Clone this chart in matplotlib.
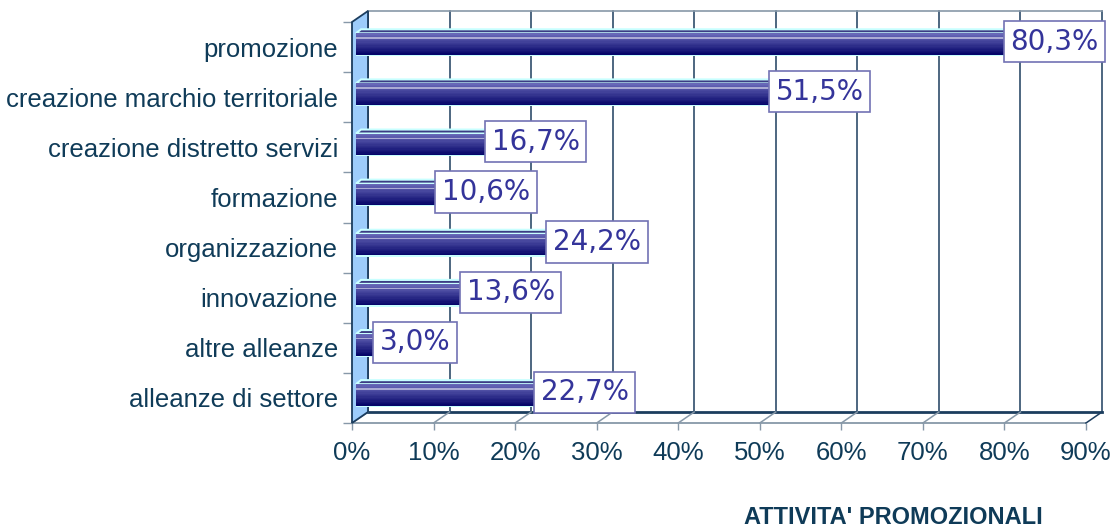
import numpy as np
import matplotlib.pyplot as plt
from matplotlib.transforms import ScaledTranslation, IdentityTransform
from matplotlib.patches import Polygon
from matplotlib.ticker import FixedLocator

# categories listed bottom to top
categories = ["alleanze di settore", "altre alleanze", "innovazione", "organizzazione",
              "formazione", "creazione distretto servizi",
              "creazione marchio territoriale", "promozione"]
values = [22.7, 3.0, 13.6, 24.2, 10.6, 16.7, 51.5, 80.3]
value_labels = ["22,7%", "3,0%", "13,6%", "24,2%", "10,6%", "16,7%", "51,5%", "80,3%"]
xticks = [0, 10, 20, 30, 40, 50, 60, 70, 80, 90]
xtick_labels = [f"{t}%" for t in xticks]
title = "ATTIVITA' PROMOZIONALI"

DPI = 100
TXT = "#0f3b58"
GRID = "#1c3d5e"
EDGE = "#8798a8"
DEPTH = (16, 11)  # pixel shift from front plane to back wall

fig = plt.figure(figsize=(11.14, 5.27), dpi=DPI)
ax = fig.add_axes([352 / 1114, 104 / 527, 734 / 1114, 401 / 527])
ax.set_xlim(0, 90)
ax.set_ylim(-0.5, 7.5)
for s in ax.spines.values():
    s.set_visible(False)

def shifted(dx, dy):
    return ax.transData + ScaledTranslation(dx / DPI, dy / DPI, fig.dpi_scale_trans)

back = shifted(*DEPTH)

def px(x, y, dx=0, dy=0):
    p = ax.transData.transform((x, y))
    return p[0] + dx, p[1] + dy

# back wall gridlines and frame
for t in xticks:
    ax.plot([t, t], [-0.5, 7.5], color=GRID, lw=1.1, transform=back, zorder=1,
            clip_on=False)
ax.plot([0, 90], [7.5, 7.5], color=EDGE, lw=1.2, transform=back, zorder=1, clip_on=False)
ax.plot([0, 90], [-0.5, -0.5], color=GRID, lw=2, transform=back, zorder=1, clip_on=False)

# floor: front edge and diagonals
ax.plot([0, 90], [-0.5, -0.5], color=EDGE, lw=1.3, zorder=1, clip_on=False)
for t in xticks:
    x0, y0 = px(t, -0.5)
    ax.add_line(plt.Line2D([x0, x0 + DEPTH[0]], [y0, y0 + DEPTH[1]],
                           color=EDGE if t < 90 else GRID, lw=1.1,
                           transform=IdentityTransform(), zorder=1, clip_on=False))

# left side wall
fl = px(0, -0.5)
ft = px(0, 7.5)
wall = Polygon([fl, ft, (ft[0] + DEPTH[0], ft[1] + DEPTH[1]),
                (fl[0] + DEPTH[0], fl[1] + DEPTH[1])], closed=True,
               facecolor="#9dccfb", edgecolor=GRID, lw=1.3,
               transform=IdentityTransform(), zorder=2, clip_on=False)
ax.add_patch(wall)

# bars with vertical gradient and a thin top face
bar_t = shifted(4, 3)
h = 0.43
n = 16
top_col = np.array([0x68, 0x68, 0xb8]) / 255
bot_col = np.array([0x06, 0x06, 0x6a]) / 255
for i, v in enumerate(values):
    ax.barh(i, v, height=h + 0.05, color="#c8ffff", transform=bar_t, zorder=3)
    for k in range(n):
        f = k / (n - 1)
        c = top_col * (1 - f) + bot_col * f
        if k == 3:
            c = c * 0.5 + 0.5
        yc = i + h / 2 - (k + 0.5) * h / n
        ax.barh(yc, v, height=h / n * 1.05, color=c, transform=bar_t, zorder=4)
    a = px(0, i + h / 2, 4, 3)
    b = px(v, i + h / 2, 4, 3)
    top = Polygon([a, b, (b[0] + 5, b[1] + 4), (a[0] + 5, a[1] + 4)], closed=True,
                  facecolor="#3c3c84", edgecolor="#c8ffff", lw=1.5,
                  transform=IdentityTransform(), zorder=3.5)
    ax.add_patch(top)

# value labels in boxes
for i, (v, lab) in enumerate(zip(values, value_labels)):
    ax.annotate(lab, xy=(v, i), xytext=(3.6 * 0.72, 5.5 * 0.72), textcoords="offset points",
                ha="left", va="center", fontsize=20, color="#34349a",
                family="DejaVu Sans",
                bbox=dict(boxstyle="square,pad=0.24", fc="white", ec="#7272b4", lw=1.2),
                zorder=6, annotation_clip=False)

# ticks and labels
ax.set_yticks(range(len(categories)))
ax.set_yticklabels(categories)
ax.yaxis.set_minor_locator(FixedLocator(np.arange(-0.5, 8, 1)))
ax.tick_params(axis="y", which="major", length=0, pad=10, labelsize=18.5,
               labelcolor=TXT)
ax.tick_params(axis="y", which="minor", length=6.5, width=1, color=EDGE)
ax.set_xticks(xticks)
ax.set_xticklabels(xtick_labels)
ax.tick_params(axis="x", length=5, width=1, color=EDGE, pad=8, labelsize=18.5,
               labelcolor=TXT)
for lab in ax.get_xticklabels() + ax.get_yticklabels():
    lab.set_family("Liberation Sans")

fig.text(893 / 1114, 1 - 517 / 527, title, ha="center", va="center",
         fontsize=17, fontweight="bold", color=TXT, family="Liberation Sans")

fig.savefig("out.png", dpi=DPI)
